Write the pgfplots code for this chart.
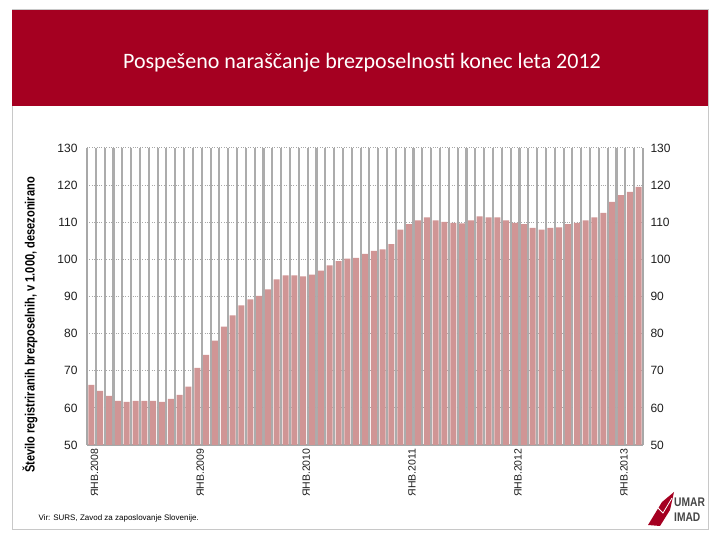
\documentclass[border=0pt]{standalone}
\usepackage{pgfplots}
\pgfplotsset{compat=1.18}
\usepackage{pgfplotstable}
\usepackage{fontspec}
\setmainfont{Liberation Sans}
\newfontfamily\titlefont{Carlito}
\newfontfamily\labelfont[FakeStretch=0.82]{Liberation Sans}
\definecolor{banner}{RGB}{165,0,33}
\definecolor{barfill}{RGB}{208,149,149}
\definecolor{gridgray}{RGB}{168,168,168}
\definecolor{vgridgray}{RGB}{172,172,172}
\definecolor{framegray}{RGB}{200,200,200}
\definecolor{ticktext}{RGB}{30,30,30}
\definecolor{logogray}{RGB}{70,70,70}

\pgfplotstableread{
x y
0 66.2
1 64.6
2 63.2
3 61.9
4 61.6
5 61.9
6 61.9
7 61.9
8 61.6
9 62.4
10 63.5
11 65.7
12 70.8
13 74.3
14 78.1
15 81.9
16 84.9
17 87.6
18 89.2
19 90.2
20 91.9
21 94.6
22 95.7
23 95.7
24 95.4
25 95.9
26 97.0
27 98.4
28 99.5
29 100.2
30 100.4
31 101.5
32 102.3
33 102.7
34 104.1
35 108.0
36 109.5
37 110.5
38 111.3
39 110.5
40 110.1
41 109.8
42 109.7
43 110.5
44 111.6
45 111.3
46 111.3
47 110.5
48 109.8
49 109.5
50 108.5
51 108.0
52 108.5
53 108.6
54 109.5
55 109.8
56 110.5
57 111.3
58 112.5
59 115.5
60 117.3
61 118.2
62 119.5
}\unemp

\begin{document}
\begin{tikzpicture}[x=1pt,y=1pt]
\useasboundingbox (0pt,0pt) rectangle (720pt,540pt);
\fill[white] (0pt,0pt) rectangle (720pt,540pt);
\draw[framegray, line width=1pt] (12pt,10pt) rectangle (708pt,530pt);
\fill[banner] (12pt,434pt) rectangle (708pt,530pt);
\node[white, font=\titlefont\fontsize{22}{26}\selectfont] at (362pt,477pt) {Pospešeno naraščanje brezposelnosti konec leta 2012};

\begin{axis}[
  at={(87pt,95pt)}, anchor=south west, scale only axis,
  width=556pt, height=297pt,
  xmin=-0.5, xmax=62.5, ymin=50, ymax=130,
  axis x line*=bottom, axis y line*=left,
  axis line style={gridgray, line width=1.2pt, -},
  ytick={50,60,...,130},
  ymajorgrids,
  major grid style={gridgray, dotted, line width=1pt},
  xtick={0,12,24,36,48,60},
  xticklabels={ЯНВ.2008,ЯНВ.2009,ЯНВ.2010,ЯНВ.2011,ЯНВ.2012,ЯНВ.2013},
  minor xtick={-0.5,0.5,...,62.5},
  xminorgrids,
  minor grid style={vgridgray, solid, line width=2.1pt},
  major tick length=0pt, minor tick length=0pt,
  /pgf/number format/assume math mode=true,
  x tick label style={rotate=90, anchor=east, yshift=-3pt, font=\fontsize{10.5}{11}\selectfont, color=ticktext},
  y tick label style={font=\fontsize{12}{14}\selectfont, color=ticktext, xshift=-6pt},
]
\addplot[ybar, bar width=0.68, fill=barfill, draw=none] table[x=x,y=y]{\unemp};
\end{axis}

\begin{axis}[
  at={(87pt,95pt)}, anchor=south west, scale only axis,
  width=556pt, height=297pt,
  xmin=-0.5, xmax=62.5, ymin=50, ymax=130,
  axis x line=none, axis y line*=right,
  axis line style={gridgray, line width=1.2pt, -},
  ytick={50,60,...,130},
  major tick length=0pt,
  /pgf/number format/assume math mode=true,
  y tick label style={font=\fontsize{12}{14}\selectfont, color=ticktext, xshift=4pt},
]
\addplot[draw=none] coordinates {(0,50)};
\end{axis}

\node[rotate=90, font=\labelfont\bfseries\fontsize{13.5}{15}\selectfont] at (30pt,215pt) {Število registriranih brezposelnih, v 1.000, desezonirano};
\node[anchor=west, font=\fontsize{8}{10}\selectfont] at (35pt,22pt) {Vir: SURS, Zavod za zaposlovanje Slovenije.};

% logo
\fill[banner] (648pt,15pt) -- (662pt,38pt) -- (674pt,48pt) -- (670pt,30pt) -- (660pt,14pt) -- cycle;
\draw[white, line width=0.8pt] (649pt,21pt) -- (657pt,33pt) -- (663pt,27pt) -- (672pt,42pt);
\node[anchor=west, font=\labelfont\bfseries\fontsize{12.5}{13}\selectfont, color=logogray, inner sep=0pt] at (674pt,38pt) {UMAR};
\node[anchor=west, font=\labelfont\bfseries\fontsize{12.5}{13}\selectfont, color=logogray, inner sep=0pt] at (674pt,23pt) {IMAD};
\end{tikzpicture}
\end{document}
